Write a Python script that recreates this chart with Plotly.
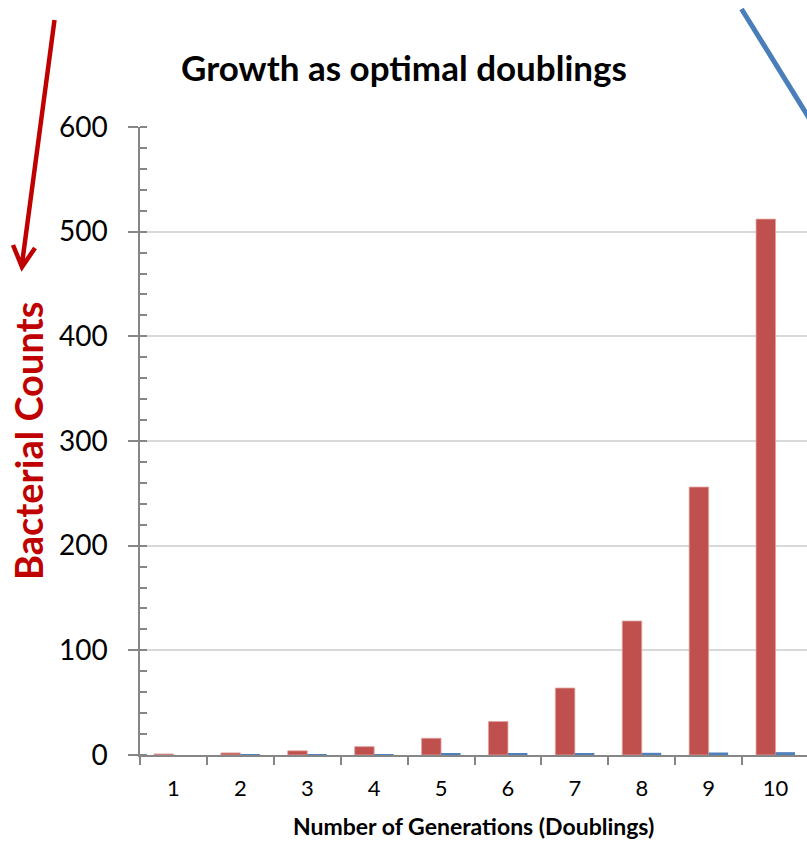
import plotly.graph_objects as go

# Generations 1..10 and counts under ideal doubling
generations = ["1", "2", "3", "4", "5", "6", "7", "8", "9", "10"]
bacterial_counts = [1, 2, 4, 8, 16, 32, 64, 128, 256, 512]
log_counts = [0.0, 0.3, 0.6, 0.9, 1.2, 1.51, 1.81, 2.11, 2.41, 2.71]

y_ticks = [0, 100, 200, 300, 400, 500, 600]

RED = "#C0504D"
BLUE = "#4F81BD"
AXIS = "#868686"
GRID = "#D9D9D9"
FONT = "Lato"

W, H = 807, 842
L, R, T, B = 140, 0, 127, 87
PW, PH = W - L - R, H - T - B


def px_x(x):
    return (x - L) / PW


def px_y(y):
    return (H - B - y) / PH


fig = go.Figure()
fig.add_trace(go.Bar(x=generations, y=bacterial_counts, marker_color=RED,
                     marker_line=dict(width=0.8, color="#DFA3A1"),
                     name="Counts"))
fig.add_trace(go.Bar(x=generations, y=log_counts, marker_color=BLUE,
                     marker_line_width=0, name="log10"))
# invisible trace to anchor the overlay axis for inner major ticks
fig.add_trace(go.Scatter(x=[generations[0]], y=[0], yaxis="y2",
                         mode="markers", marker_opacity=0,
                         showlegend=False, hoverinfo="skip"))

fig.update_layout(
    width=W, height=H,
    margin=dict(l=L, r=R, t=T, b=B),
    paper_bgcolor="white", plot_bgcolor="white",
    showlegend=False,
    barmode="group", bargap=0.417, bargroupgap=0,
    font=dict(family=FONT, color="black"),
    title=dict(text="<b>Growth as optimal doublings</b>",
               x=404 / W, xref="container", xanchor="center",
               y=1 - 69 / H, yref="container", yanchor="middle",
               font=dict(family=FONT, size=35, color="black")),
    xaxis=dict(
        type="category", range=[-0.5, -0.5 + PW / 66.9],
        tickson="boundaries", ticks="outside", ticklen=8, tickwidth=1.5,
        tickcolor=AXIS, showline=True, linecolor=AXIS, linewidth=1.5,
        showgrid=False, tickfont=dict(family=FONT, size=22, color="black"),
        ticklabelstandoff=13, zeroline=False,
    ),
    yaxis=dict(
        range=[0, 600], tickvals=y_ticks, ticks="outside", ticklen=10,
        tickwidth=1.5, tickcolor=AXIS, showline=True, linecolor=AXIS,
        linewidth=1.5, showgrid=True, gridcolor=GRID, gridwidth=1.5,
        zeroline=False, tickfont=dict(family=FONT, size=28, color="black"),
        ticklabelstandoff=15,
        minor=dict(dtick=20, ticks="inside", ticklen=7, tickwidth=1.5,
                   tickcolor=AXIS, showgrid=False),
    ),
    yaxis2=dict(
        range=[0, 600], overlaying="y", side="left", tickvals=y_ticks,
        ticks="inside", ticklen=7, tickwidth=1.5, tickcolor=AXIS,
        showticklabels=False, showline=False, showgrid=False, zeroline=False,
    ),
)

fig.add_annotation(text="<b>Number of Generations (Doublings)</b>",
                   xref="paper", yref="paper", x=0.5, y=px_y(826),
                   xanchor="center", yanchor="middle", showarrow=False,
                   font=dict(family=FONT, size=23, color="black"))
fig.add_annotation(text="<b>Bacterial Counts</b>", textangle=-90,
                   xref="paper", yref="paper", x=px_x(28), y=px_y(441),
                   xanchor="center", yanchor="middle", showarrow=False,
                   font=dict(family=FONT, size=38, color="#C00000"))

# red pointer arrow toward the axis title
tip = (22, 267)
fig.add_shape(type="path", xref="paper", yref="paper",
              path=(f"M {px_x(54.5)} {px_y(20)} L {px_x(tip[0])} {px_y(tip[1] - 3)} "
                    f"M {px_x(13)} {px_y(245)} L {px_x(tip[0])} {px_y(tip[1])} "
                    f"L {px_x(35)} {px_y(248)}"),
              line=dict(color="#C00000", width=4.5))
# blue pointer line in the top right corner
fig.add_shape(type="line", xref="paper", yref="paper",
              x0=px_x(741.5), y0=px_y(9), x1=px_x(830), y1=px_y(152),
              line=dict(color="#4A7EBB", width=5))

fig.write_html("out.html")
